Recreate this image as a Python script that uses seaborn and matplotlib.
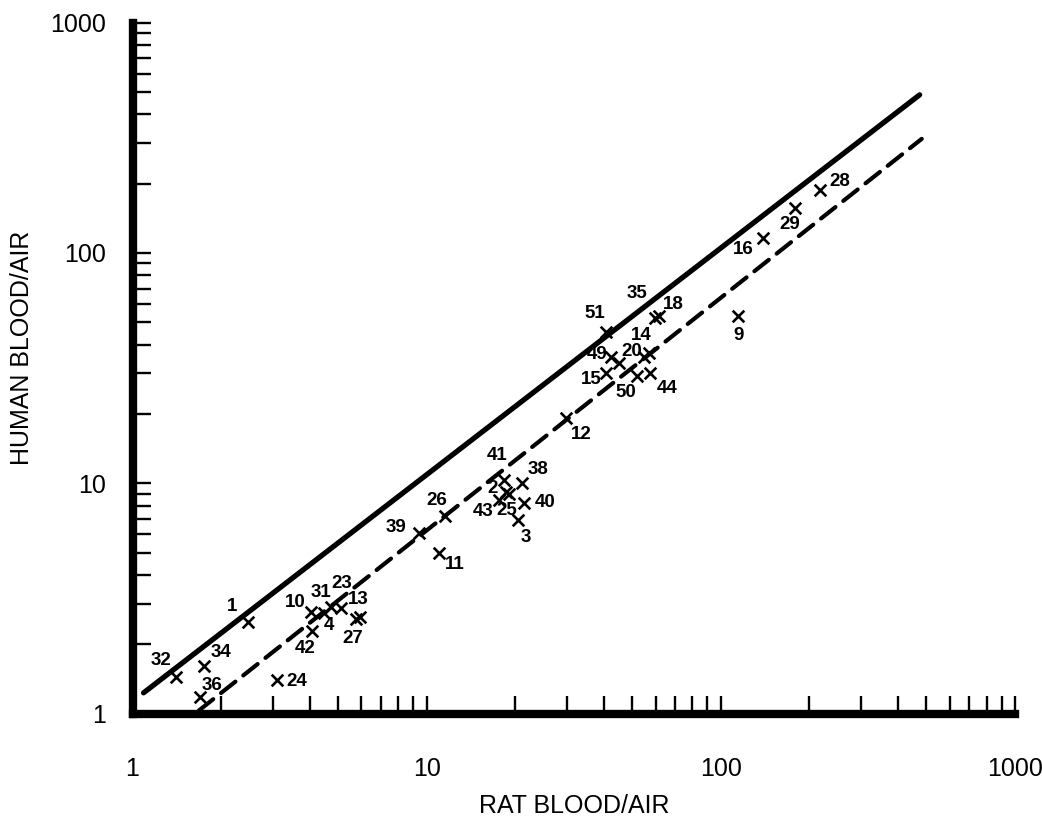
import numpy as np
import pandas as pd
import matplotlib.pyplot as plt
import matplotlib.ticker as mticker
import seaborn as sns

# compound numbers and partition coefficients
ids = ["1", "32", "34", "36", "24", "10", "42", "31", "4", "23", "13", "27",
       "39", "26", "11", "41", "38", "2", "25", "43", "40", "3", "12",
       "51", "35", "18", "49", "20", "14", "", "15", "50", "44",
       "16", "29", "28", "9"]
rat = [2.47, 1.41, 1.75, 1.69, 3.11, 4.03, 4.06, 4.71, 4.46, 5.13, 5.91, 5.73,
       9.39, 11.5, 11.0, 18.3, 21.1, 18.6, 19.0, 17.6, 21.4, 20.4, 29.8,
       40.7, 59.8, 61.7, 42.4, 45.1, 57.1, 54.9, 40.7, 51.9, 57.5,
       139, 179, 217, 114]
human = [2.50, 1.44, 1.61, 1.18, 1.40, 2.76, 2.28, 2.90, 2.73, 2.87, 2.62, 2.57,
         6.08, 7.20, 4.98, 10.3, 10.0, 9.16, 8.98, 8.45, 8.20, 6.92, 19.2,
         45.4, 52.2, 53.2, 35.3, 33.3, 36.8, 35.3, 30.1, 29.2, 30.1,
         116, 157, 188, 53.2]

# the two reference lines
solid_x = [1.09, 474]
solid_y = [1.23, 486]
dash_x = [1.68, 482]
dash_y = [1.03, 313]

ticks = [1, 10, 100, 1000]
tick_labels = ["1", "10", "100", "1000"]

# label placement (points, relative to the marker)
offsets = {
    "1": (-11.5, 10.8), "32": (-10.8, 12.2), "34": (12.2, 9.4), "36": (8.6, 8.6),
    "24": (14, -1), "10": (-10.8, 6.5), "42": (-4.3, -12.2), "31": (-6.5, 10.8),
    "4": (3.6, -8.6), "23": (0, 18), "13": (-0.7, 13), "27": (-2, -13.7),
    "39": (-16.6, 4.3), "26": (-5.8, 11.5), "11": (11.5, -8.6), "41": (-5, 18),
    "38": (11.5, 10), "2": (-9.4, 2.2), "25": (-1.4, -12.2), "43": (-11.5, -7.9),
    "40": (15, 0.7), "3": (5.8, -12.2), "12": (10.8, -12.2), "51": (-7.9, 13),
    "35": (-13, 17.3), "18": (10, 8.6), "14": (-5.8, 12.2), "49": (-10, 2.2),
    "20": (9.4, 7.9), "15": (-10.8, -4.3), "50": (-7.9, -11.5), "44": (12.2, -10.8),
    "16": (-14.4, -7.9), "29": (-3.6, -12.2), "28": (14.4, 5.8), "9": (0.7, -13.7),
}

df = pd.DataFrame({"id": ids, "rat": rat, "human": human})

sns.set_style("white")
plt.rcParams["font.family"] = ["Liberation Sans", "DejaVu Sans"]
plt.rcParams["text.color"] = "black"
plt.rcParams["axes.labelcolor"] = "black"
plt.rcParams["xtick.color"] = "black"
plt.rcParams["ytick.color"] = "black"

fig = plt.figure(figsize=(10.42, 8.21), dpi=100)
ax = fig.add_axes([0.1272, 0.1309, 0.8469, 0.8415])

sns.lineplot(x=solid_x, y=solid_y, ax=ax, color="black", lw=3.8,
             solid_capstyle="round")
sns.lineplot(x=dash_x, y=dash_y, ax=ax, color="black", lw=3.0,
             linestyle=(0, (4.4, 2.4)), dash_capstyle="round")
sns.scatterplot(data=df, x="rat", y="human", ax=ax, marker="x", s=70,
                color="black", linewidth=1.9, zorder=3)

for i, r in df.iterrows():
    if r["id"] == "":
        continue
    dx, dy = offsets[r["id"]]
    ax.annotate(r["id"], (r["rat"], r["human"]), xytext=(dx, dy),
                textcoords="offset points", ha="center", va="center",
                fontsize=13.5, fontweight="bold", color="black")

ax.set_xscale("log")
ax.set_yscale("log")
ax.set_xlim(1, 1000)
ax.set_ylim(1, 1000)

ax.xaxis.set_major_locator(mticker.FixedLocator(ticks))
ax.yaxis.set_major_locator(mticker.FixedLocator(ticks))
ax.set_xticklabels(tick_labels)
ax.set_yticklabels(tick_labels)
ax.xaxis.set_minor_locator(mticker.LogLocator(base=10, subs=np.arange(2, 10)))
ax.yaxis.set_minor_locator(mticker.LogLocator(base=10, subs=np.arange(2, 10)))
ax.xaxis.set_minor_formatter(mticker.NullFormatter())
ax.yaxis.set_minor_formatter(mticker.NullFormatter())

ax.tick_params(which="both", direction="in", length=13, width=1.7,
               color="black", labelcolor="black", bottom=True, left=True)
ax.tick_params(axis="x", which="major", pad=31, labelsize=18)
ax.tick_params(axis="y", which="major", pad=19, labelsize=18)

for side in ["top", "right"]:
    ax.spines[side].set_visible(False)
for side in ["left", "bottom"]:
    ax.spines[side].set_linewidth(6)
    ax.spines[side].set_color("black")
    ax.spines[side].set_capstyle("projecting")

ax.set_xlabel("RAT BLOOD/AIR", fontsize=18, color="black")
ax.set_ylabel("HUMAN BLOOD/AIR", fontsize=18, color="black")
ax.xaxis.set_label_coords(0.5, -0.116)
ax.yaxis.set_label_coords(-0.112, 0.53)

fig.savefig("out.png", dpi=100)
